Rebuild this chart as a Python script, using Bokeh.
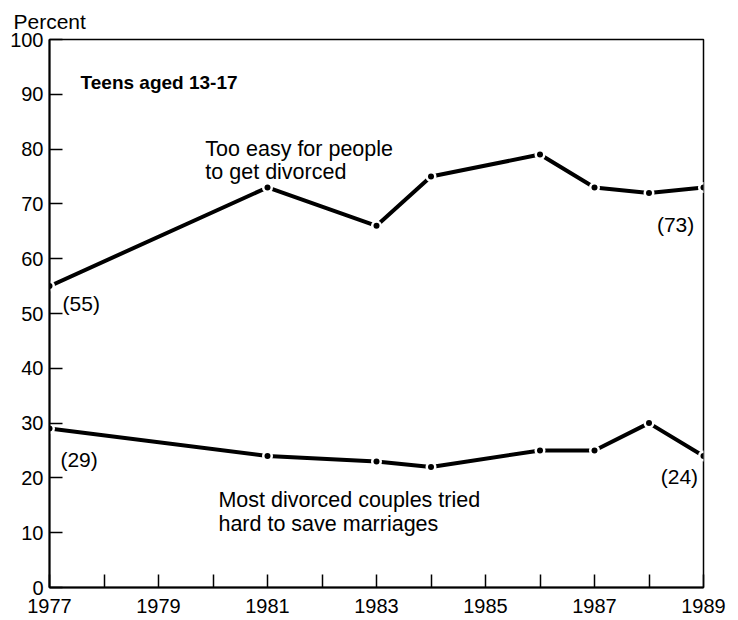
from bokeh.plotting import figure
from bokeh.models import Range1d, FixedTicker, Label
from bokeh.embed import file_html
from bokeh.resources import INLINE

# ---- data ----
years = [1977, 1981, 1983, 1984, 1986, 1987, 1988, 1989]
too_easy = [55, 73, 66, 75, 79, 73, 72, 73]
tried_hard = [29, 24, 23, 22, 25, 25, 30, 24]
x_ticks = list(range(1977, 1990))
x_tick_labels = {y: (str(y) if y % 2 == 1 else "") for y in x_ticks}
y_ticks = list(range(0, 101, 10))

FONT = "Liberation Sans"

p = figure(width=738, height=620,
           x_range=Range1d(1977, 1989), y_range=Range1d(0, 100),
           output_backend="svg", toolbar_location=None,
           min_border_left=49, min_border_right=35,
           min_border_top=37, min_border_bottom=33)

p.title.text = "Percent"
p.title.text_font = FONT
p.title.text_font_size = "21px"
p.title.text_font_style = "normal"
p.title.text_color = "black"
p.title.align = "left"
p.title.offset = -36
p.title.standoff = 14

p.grid.visible = False
p.outline_line_color = "black"
p.outline_line_width = 1.5
p.background_fill_color = "white"
p.border_fill_color = "white"

for ax in (p.xaxis, p.yaxis):
    ax.axis_line_width = 2
    ax.axis_line_color = "black"
    ax.major_tick_in = 13
    ax.major_tick_out = 0
    ax.minor_tick_line_color = None
    ax.major_tick_line_width = 1.5
    ax.major_tick_line_color = "black"
    ax.major_label_text_font = FONT
    ax.major_label_text_font_size = "20px"
    ax.major_label_text_color = "black"

p.xaxis.ticker = FixedTicker(ticks=x_ticks)
p.xaxis.major_label_overrides = x_tick_labels
p.xaxis.major_label_standoff = 11
p.yaxis.ticker = FixedTicker(ticks=y_ticks)
p.yaxis.major_label_standoff = 6

for series in (too_easy, tried_hard):
    p.line(years, series, line_width=4, line_color="black")
    p.scatter(years, series, size=11, fill_color="white", line_color=None)
    p.scatter(years, series, size=6, fill_color="black", line_color=None)

def add_label(x, y, text, size="21.5px", style="normal", align="left"):
    p.add_layout(Label(x=x, y=y, text=text, text_font=FONT,
                       text_font_size=size, text_font_style=style,
                       text_align=align, text_baseline="alphabetic",
                       text_color="black"))

add_label(1977.57, 92.2, "Teens aged 13-17", size="19px", style="bold")
add_label(1979.86, 80.0, "Too easy for people")
add_label(1979.86, 75.8, "to get divorced")
add_label(1980.1, 16.0, "Most divorced couples tried")
add_label(1980.1, 11.6, "hard to save marriages")
add_label(1977.24, 51.8, "(55)", size="21px")
add_label(1977.2, 23.3, "(29)", size="21px")
add_label(1988.83, 66.2, "(73)", size="21px", align="right")
add_label(1988.9, 20.2, "(24)", size="21px", align="right")

open("out.html", "w").write(file_html(p, INLINE))
